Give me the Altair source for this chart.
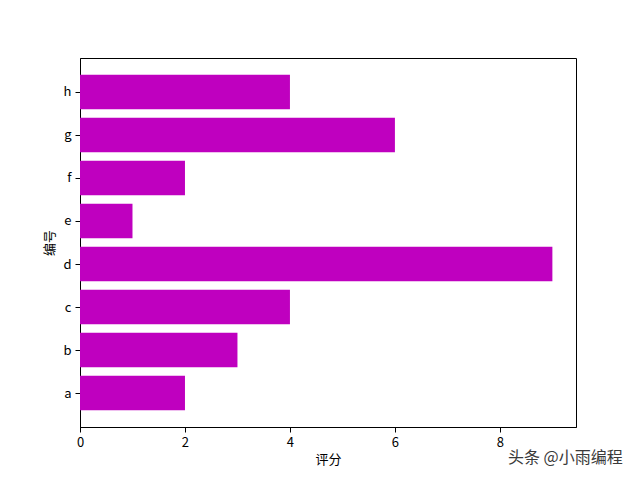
import altair as alt
import pandas as pd

categories = ["a", "b", "c", "d", "e", "f", "g", "h"]
scores = [2, 3, 4, 9, 1, 2, 6, 4]
x_ticks = [0, 2, 4, 6, 8]

df = pd.DataFrame({"cat": categories, "score": scores, "idx": list(range(len(categories)))})
df["lo"] = df["idx"] - 0.4
df["hi"] = df["idx"] + 0.4

font = "Noto Sans CJK SC"
label_expr = "[" + ",".join(f"'{c}'" for c in categories) + "][datum.value]"

bars = alt.Chart(df).mark_bar(color="#bf00bf").encode(
    x=alt.X("score:Q",
            scale=alt.Scale(domain=[0, 9.45], nice=False, zero=False),
            axis=alt.Axis(values=x_ticks, title="评分", grid=False, format="d",
                          labelFlush=False,
                          domainColor="black", tickColor="black", tickSize=5,
                          labelColor="black", labelFont=font, labelFontSize=13,
                          labelPadding=4, titleFont=font, titleFontSize=13,
                          titleFontWeight="normal", titleColor="black", titlePadding=4)),
    x2=alt.X2(datum=0),
    y=alt.Y("lo:Q",
            scale=alt.Scale(domain=[-0.79, 7.79], nice=False, zero=False),
            axis=alt.Axis(values=list(range(len(categories))), labelExpr=label_expr,
                          title="编号", grid=False, labelFlush=False,
                          domainColor="black", tickColor="black", tickSize=5,
                          labelColor="black", labelFont=font, labelFontSize=13,
                          labelPadding=4, titleFont=font, titleFontSize=13,
                          titleFontWeight="normal", titleColor="black", titlePadding=6)),
    y2="hi:Q",
)

wm = alt.Chart(pd.DataFrame({"t": ["头条 @小雨编程"]})).mark_text(
    align="left", baseline="middle", font=font, fontSize=16, color="#3a3a3a"
).encode(text="t:N", x=alt.value(428), y=alt.value(400))

chart = alt.layer(bars, wm).properties(
    width=496, height=369,
    background="white",
    autosize=alt.AutoSizeParams(type="none"),
    padding={"left": 72, "top": 50, "right": 56, "bottom": 45},
).configure_view(stroke="black", strokeWidth=1)

chart.save("out.html", embed_options={"renderer": "svg", "actions": False})
